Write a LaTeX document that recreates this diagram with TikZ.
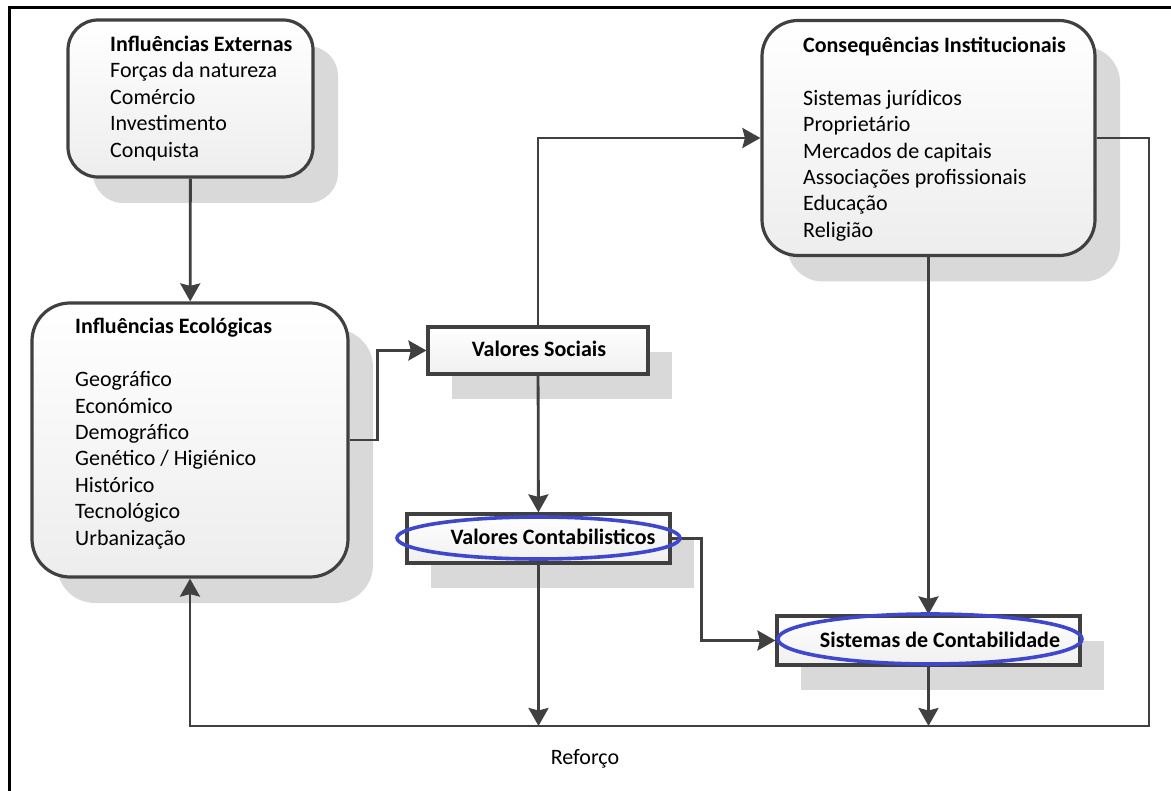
\documentclass[tikz,border=0pt]{standalone}
\usepackage{fontspec}
\setmainfont{Carlito}
\usetikzlibrary{arrows.meta,shadows,shapes.geometric}
\definecolor{edgec}{HTML}{404040}
\definecolor{shadec}{HTML}{D9D9D9}
\definecolor{ellblue}{HTML}{3F48CC}
\newcommand\boxlines[1]{\vtop{\baselineskip=26.4pt\lineskiplimit=-20pt #1}}
\begin{document}
\begin{tikzpicture}[x=1pt,y=-1pt,
  rbox/.style={draw=edgec, line width=3.2pt, rounded corners=34pt, top color=white, bottom color=black!7, inner sep=0pt,
    drop shadow={shadow xshift=25pt, shadow yshift=-26pt, fill=shadec, opacity=1}},
  sbox/.style={draw=edgec, line width=3.2pt, top color=white, bottom color=black!6, inner sep=0pt,
    drop shadow={shadow xshift=24pt, shadow yshift=-25pt, fill=shadec, opacity=1}},
  txt/.style={inner sep=0pt, text=black, font=\fontsize{22pt}{26.4pt}\selectfont},
  btxt/.style={txt, font=\fontsize{22pt}{26.4pt}\selectfont\bfseries},
  conn/.style={draw=edgec, line width=2.8pt},
  arr/.style={conn, -{Stealth[length=18pt, width=20pt, inset=2.5pt]}},
  ell/.style={draw=ellblue, line width=3.6pt, ellipse, inner sep=0pt}
]
\useasboundingbox (0,0) rectangle (1171,791);
\draw[line width=3pt, black] (9.5,791) -- (9.5,7.5) -- (1171,7.5);

% boxes
\node[rbox, rounded corners=30pt, minimum width=245pt, minimum height=157pt] (ext) at (190.5,98.5) {};
\node[rbox, rounded corners=38pt, minimum width=316pt, minimum height=274pt] (eco) at (190,440) {};
\node[rbox, rounded corners=36pt, minimum width=333pt, minimum height=235pt] (cons) at (928.5,138) {};
\node[sbox, minimum width=220pt, minimum height=47pt] (soc) at (538,350.5) {};
\node[sbox, minimum width=263pt, minimum height=49pt] (cont) at (538.5,538.5) {};
\node[sbox, minimum width=303pt, minimum height=49pt] (sis) at (928.5,640.5) {};

\coordinate (base) at (0,726);
\coordinate (rb) at (1149,726);

% connectors
\draw[arr] (ext) -- (eco);
\draw[arr] (eco.east) -- ++(28,0) |- (soc.west);
\draw[arr] (soc.north) |- (cons.west);
\draw[arr] (soc) -- (cont);
\draw[arr] (cont.east) -- ++(30,0) |- (sis.west);
\draw[arr] (cons) -- (sis);
\draw[arr] (sis.south) -- (sis.south |- base);
\draw[arr] (cont.south) -- (cont.south |- base);
\draw[arr] (cons.east) -| (rb) -| (eco.south);

% highlight ellipses
\node[ell, minimum width=283pt, minimum height=42pt] (contE) at (538.5,538) {};
\node[ell, minimum width=304pt, minimum height=50pt] (sisE) at (930,639) {};

% texts
\node[txt, anchor=base west] (extT) at (110,51.5) {\boxlines{\hbox{\bfseries Influências Externas}\hbox{Forças da natureza}\hbox{Comércio}\hbox{Investimento}\hbox{Conquista}}};
\node[txt, anchor=base west] (ecoT) at (75,334) {\boxlines{\hbox{\bfseries Influências Ecológicas}\hbox{}\hbox{Geográfico}\hbox{Económico}\hbox{Demográfico}\hbox{Genético / Higiénico}\hbox{Histórico}\hbox{Tecnológico}\hbox{Urbanização}}};
\node[txt, anchor=base west] (consT) at (803,52.5) {\boxlines{\hbox{\bfseries Consequências Institucionais}\hbox{}\hbox{Sistemas jurídicos}\hbox{Proprietário}\hbox{Mercados de capitais}\hbox{Associações profissionais}\hbox{Educação}\hbox{Religião}}};
\node[btxt, anchor=base] (socT) at (539,357) {Valores Sociais};
\node[btxt, anchor=base] (contT) at (553,545) {Valores Contabilisticos};
\node[btxt, anchor=base] (sisT) at (940,647) {Sistemas de Contabilidade};
\node[txt, anchor=base] (refT) at (585,764) {Reforço};
\end{tikzpicture}
\end{document}
